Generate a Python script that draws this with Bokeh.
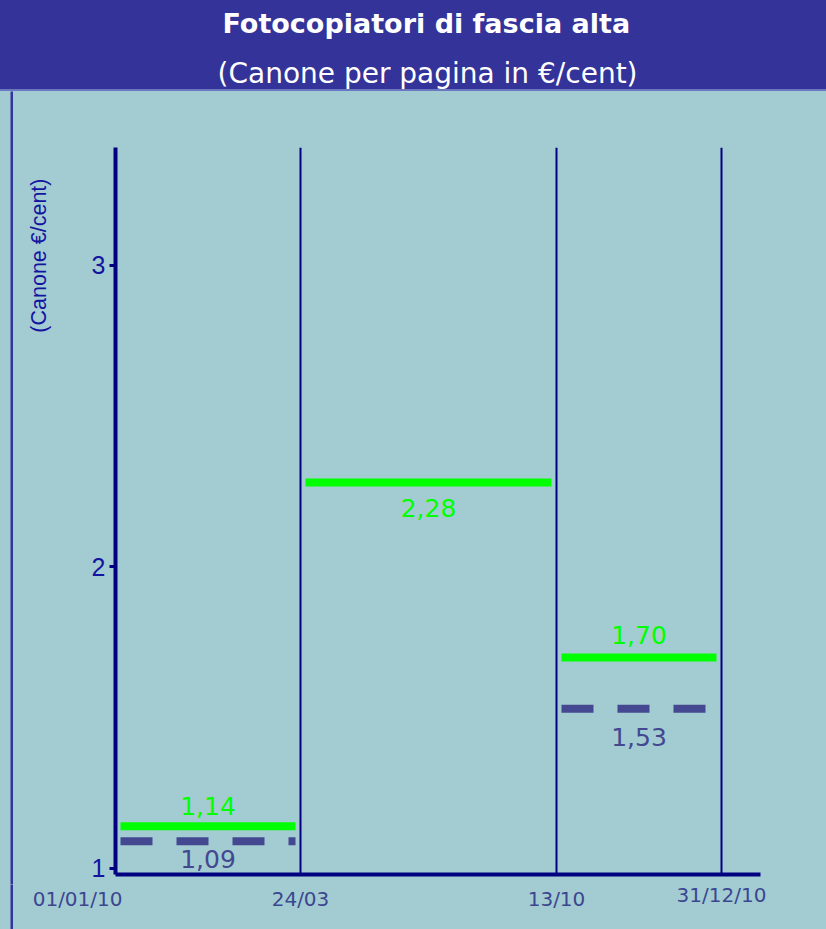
from bokeh.plotting import figure
from bokeh.layouts import column, row
from bokeh.models import Range1d, FixedTicker, ColumnDataSource, Span, Title
from bokeh.core.properties import value
from bokeh.embed import file_html
from bokeh.resources import INLINE

# ---------------- data ----------------
title_text = "Fotocopiatori di fascia alta"
subtitle_text = "(Canone per pagina in €/cent)"
y_label_text = "(Canone €/cent)"

date_labels = ["01/01/10", "24/03", "13/10", "31/12/10"]
date_pos = [0.0, 1.85, 4.41, 6.06]        # boundaries on the (non-proportional) time axis
y_ticks = [1, 2, 3]

new_vals = [1.14, 2.28, 1.70]              # green: new rate
new_text = ["1,14", "2,28", "1,70"]
old_periods = [0, 2]                       # periods that also show the old rate
old_vals = [1.09, 1.53]                    # dashed: old rate
old_text = ["1,09", "1,53"]

# ---------------- style ----------------
BG = "#a2ccd2"
TITLE_BG = "#333399"
NAVY = "#000080"
GREEN = "#00ff00"
OLD = "#434890"
TICK_TXT = "#1414a0"
DATE_TXT = "#3c4690"


def blank(width, height, bg, border, **borders):
    f = figure(width=width, height=height, output_backend="svg", toolbar_location=None,
               title=None, x_axis_location=None, y_axis_location=None,
               background_fill_color=bg, border_fill_color=border, **borders)
    f.grid.visible = False
    f.outline_line_color = None
    f.frame_align = False
    f.styles = {"background-color": border}
    return f


# ---------- header (title bar) ----------
header = blank(826, 89, TITLE_BG, TITLE_BG, min_border_top=38, min_border_bottom=31,
               min_border_left=0, min_border_right=0)
header.add_layout(Title(text=title_text, align="left", offset=222, standoff=0,
                        text_font="DejaVu Sans", text_font_style="bold",
                        text_font_size="27px", text_color="white"), "above")
header.add_layout(Title(text=subtitle_text, align="left", offset=217, standoff=0,
                        vertical_align="bottom",
                        text_font="DejaVu Sans", text_font_style="normal",
                        text_font_size="28px", text_color="white"), "below")
rule = blank(826, 2, "#6a78c2", "#6a78c2", min_border=0)

# ---------- left border strip + rotated y label ----------
strip = blank(13, 793, TITLE_BG, BG, min_border_left=10, min_border_right=0,
              min_border_top=0, min_border_bottom=0)
labelfig = blank(50, 793, BG, BG, min_border_left=49, min_border_right=0,
                 min_border_top=56, min_border_bottom=10)
labelfig.add_layout(Title(text=y_label_text, align="right", offset=31, standoff=26,
                          text_font="Liberation Sans", text_font_style="normal",
                          text_font_size="21.5px", text_color=TICK_TXT), "left")

# ---------- main chart ----------
p = figure(width=763, height=793, output_backend="svg", toolbar_location=None, title=None,
           x_range=Range1d(0, 6.45), y_range=Range1d(0.98, 3.391),
           min_border_left=52, min_border_right=66, min_border_top=56, min_border_bottom=10,
           background_fill_color=BG, border_fill_color=BG)
p.grid.visible = False
p.outline_line_color = None
p.frame_align = False

ya = p.yaxis[0]
ya.ticker = FixedTicker(ticks=y_ticks)
ya.axis_line_color = NAVY
ya.axis_line_width = 4
ya.major_tick_line_color = NAVY
ya.major_tick_line_width = 3
ya.major_tick_out = 6
ya.major_tick_in = 0
ya.minor_tick_line_color = None
ya.major_label_text_font = "Liberation Sans"
ya.major_label_text_font_size = "25px"
ya.major_label_text_color = TICK_TXT
ya.major_label_standoff = 4

xa = p.xaxis[0]
xa.ticker = FixedTicker(ticks=[])
xa.axis_line_color = NAVY
xa.axis_line_width = 4
xa.major_tick_line_color = None
xa.minor_tick_line_color = None
xa.major_label_standoff = 0

for xp in date_pos[1:]:
    p.add_layout(Span(location=xp, dimension="height", line_color=NAVY, line_width=2))

starts = date_pos[:-1]
ends = date_pos[1:]
inset = 0.05

new_src = ColumnDataSource(dict(
    x0=[s + inset for s in starts], x1=[e - inset for e in ends],
    y=new_vals, xc=[(s + e) / 2 for s, e in zip(starts, ends)],
    txt=new_text, off=[-20, 25, -22]))
old_src = ColumnDataSource(dict(
    x0=[starts[i] + inset for i in old_periods], x1=[ends[i] - inset for i in old_periods],
    y=old_vals, xc=[(starts[i] + ends[i]) / 2 for i in old_periods],
    txt=old_text, off=[18, 28]))

p.segment(x0="x0", y0="y", x1="x1", y1="y", source=old_src, line_color=OLD,
          line_width=8, line_dash="32 24", line_cap="butt")
p.segment(x0="x0", y0="y", x1="x1", y1="y", source=new_src, line_color=GREEN,
          line_width=8, line_cap="butt")

for src, col in ((new_src, GREEN), (old_src, OLD)):
    p.text(x="xc", y="y", text="txt", y_offset="off", source=src, text_color=col,
           text_font=value("DejaVu Sans"), text_font_size="25px",
           text_align="center", text_baseline="middle")

# ---------- date labels row ----------
strip2 = blank(13, 45, TITLE_BG, BG, min_border_left=10, min_border_right=0,
               min_border_top=0, min_border_bottom=0)
dates = blank(813, 45, BG, BG, min_border=0)
dates.x_range = Range1d(-1.02, 7.11)
dates.y_range = Range1d(0, 1)
date_src = ColumnDataSource(dict(x=date_pos, y=[0.5] * len(date_pos), txt=date_labels,
                                 align=["right", "center", "center", "center"],
                                 dx=[7, 0, 0, 0], dy=[-8, -8, -8, -12]))
dates.text(x="x", y="y", text="txt", x_offset="dx", y_offset="dy", text_align="align",
           source=date_src, text_color=DATE_TXT, text_font=value("DejaVu Sans"),
           text_font_size="20px", text_baseline="middle")

layout = column(header, rule,
                row(strip, labelfig, p, spacing=0),
                row(strip2, dates, spacing=0),
                spacing=0)

html = file_html(layout, INLINE, title="Fotocopiatori di fascia alta")
html = html.replace("</head>", "<style>html, body {background: #a2ccd2;}</style></head>", 1)
open("out.html", "w").write(html)
